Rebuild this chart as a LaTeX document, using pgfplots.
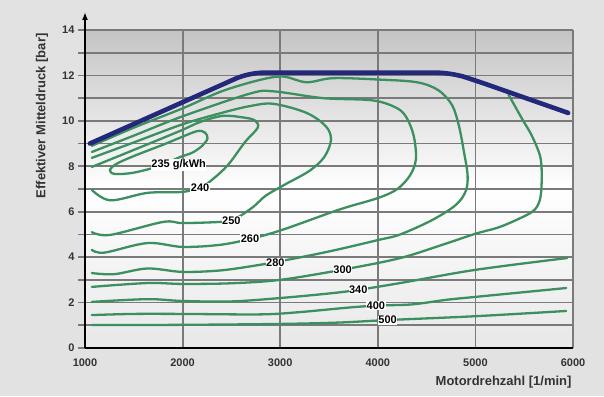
\documentclass[border=0pt]{standalone}
\usepackage{fontspec}
\setmainfont{Liberation Sans}
\usepackage{pgfplots}
\pgfplotsset{compat=1.18}
\usetikzlibrary{arrows.meta}
\definecolor{outerbg}{HTML}{E2E2E2}
\definecolor{fl}{HTML}{23287A}
\definecolor{cg}{HTML}{3C9060}
\definecolor{tickc}{HTML}{333333}
\definecolor{bgtop}{HTML}{C4C4C4}
\definecolor{bgbot}{HTML}{E8E8E8}
\definecolor{gridgray}{HTML}{7A7A7A}
\tikzset{
  cline/.style={cg, line width=2.3pt, smooth, tension=0.55, line cap=round},
  lab/.style={font=\bfseries\fontsize{11}{13}\selectfont, fill=white, inner sep=0.6pt, text=black},
}
\begin{document}
\begin{tikzpicture}
\fill[outerbg] (-85pt,-48pt) rectangle (519pt,348pt);
\begin{axis}[
  at={(0,0)}, anchor=south west,
  scale only axis, width=488pt, height=318pt,
  xmin=1000, xmax=6000, ymin=0, ymax=14,
  axis background/.style={top color=bgtop, bottom color=bgbot, middle color=white},
  axis x line=bottom, axis y line=left,
  axis line style={line width=2.4pt, black},
  x axis line style={-},
  y axis line style={-{Latex[length=8pt,width=6pt]}, shorten >=-18pt},
  xtick={1000,2000,...,6000},
  ytick={0,2,...,14}, minor ytick={1,3,...,13},
  grid=both,
  major grid style={gridgray, line width=1.8pt},
  minor grid style={gridgray, line width=1.8pt},
  tick align=outside,
  major tick length=7pt, minor tick length=7pt,
  ytick style={gridgray, line width=1.8pt},
  xtick style={draw=none},
  ticklabel style={font=\bfseries\fontsize{11}{13}\selectfont, text=tickc},
  /pgf/number format/assume math mode=true,
  /pgf/number format/1000 sep={},
  scaled x ticks=false,
  xlabel={Motordrehzahl [1/min]},
  ylabel={Effektiver Mitteldruck [bar]},
  label style={font=\bfseries\fontsize{13}{15}\selectfont, text=tickc},
  xlabel style={at={(axis description cs:1,0)}, anchor=east, yshift=-34pt, xshift=2pt},
  ylabel style={at={(axis description cs:-0.088,0.73)}, anchor=center},
]
% 500
\addplot[cline] coordinates {(1070,1.01) (2000,1.02) (3000,1.06) (3600,1.12) (4100,1.23) (5000,1.4) (5930,1.63)};
% 400
\addplot[cline] coordinates {(1070,1.45) (1500,1.5) (2000,1.5) (2800,1.48) (3200,1.58) (3700,1.78) (4000,1.87) (4350,1.92) (4700,2.12) (5000,2.25) (5930,2.64)};
% 340
\addplot[cline] coordinates {(1070,2.03) (1640,2.15) (2000,2.07) (2500,2.05) (3000,2.2) (3500,2.4) (3800,2.56) (4230,2.86) (5000,3.44) (5940,3.96)};
% 300
\addplot[cline] coordinates {(1070,2.69) (1640,2.86) (2000,2.82) (2500,2.85) (3000,3.0) (3640,3.45) (4230,3.96) (4700,4.6) (5000,5.03) (5250,5.33) (5500,5.8) (5610,6.1) (5665,6.6) (5680,7.5) (5670,8.3) (5630,8.85) (5560,9.5) (5490,10.0) (5340,11.15)};
% 280
\addplot[cline] coordinates {(1070,3.3) (1300,3.25) (1640,3.5) (2000,3.35) (2400,3.42) (2790,3.66) (3000,3.82) (3500,4.25) (4000,4.75) (4230,5.0) (4560,5.64) (4800,6.3) (4900,6.9) (4920,7.6) (4880,8.7) (4830,9.8) (4760,10.7) (4620,11.35) (4400,11.7) (4000,11.82) (3540,11.88) (3270,11.7) (3030,11.95) (2790,11.8) (2400,11.3) (2000,10.55) (1500,9.7) (1070,8.9)};
% 260
\addplot[cline] coordinates {(1070,4.32) (1200,4.2) (1640,4.62) (2000,4.45) (2380,4.54) (2690,4.8) (3020,5.2) (3610,6.1) (4000,6.6) (4200,7.0) (4330,7.6) (4390,8.3) (4370,9.3) (4300,10.1) (4200,10.55) (3950,10.9) (3440,11.0) (2930,11.3) (2690,11.2) (2000,10.2) (1500,9.35) (1070,8.63)};
% 250
\addplot[cline] coordinates {(1070,5.1) (1260,4.98) (1800,5.55) (2000,5.5) (2380,5.55) (2520,5.64) (2720,6.2) (2850,6.7) (3050,7.2) (3300,7.8) (3450,8.4) (3520,9.15) (3470,9.75) (3270,10.35) (2930,10.75) (2690,10.65) (2400,10.35) (2000,9.85) (1500,9.05) (1070,8.37)};
% 240
\addplot[cline] coordinates {(1070,6.96) (1260,6.5) (1640,6.83) (1990,6.87) (2180,7.05) (2300,7.4) (2465,8.06) (2640,9.07) (2770,9.7) (2740,10.02) (2620,10.15) (2410,10.22) (2180,9.95) (1970,9.55) (1500,8.72) (1070,7.97)};
% 235
\addplot[cline, smooth cycle] coordinates {(1255,7.82) (1320,8.1) (1500,8.45) (1800,8.95) (1970,9.25) (2150,9.55) (2230,9.48) (2255,9.22) (2200,8.9) (2100,8.6) (1970,8.4) (1750,8.0) (1500,7.72) (1310,7.66)};
% full load
\addplot[fl, line width=4.6pt, rounded corners=14pt, line cap=round] coordinates {(1050,9.0) (2680,12.12) (4750,12.12) (5000,11.78) (5950,10.35)};
\node[lab] at (axis cs:1960,8.05) {235 g/kWh};
\node[lab] at (axis cs:2180,7.05) {240};
\node[lab] at (axis cs:2500,5.62) {250};
\node[lab] at (axis cs:2690,4.8) {260};
\node[lab] at (axis cs:2950,3.76) {280};
\node[lab] at (axis cs:3640,3.45) {300};
\node[lab] at (axis cs:3800,2.56) {340};
\node[lab] at (axis cs:3980,1.88) {400};
\node[lab] at (axis cs:4100,1.23) {500};
\end{axis}
\pgfresetboundingbox
\path[use as bounding box] (-85pt,-48pt) rectangle (519pt,348pt);
\end{tikzpicture}
\end{document}
